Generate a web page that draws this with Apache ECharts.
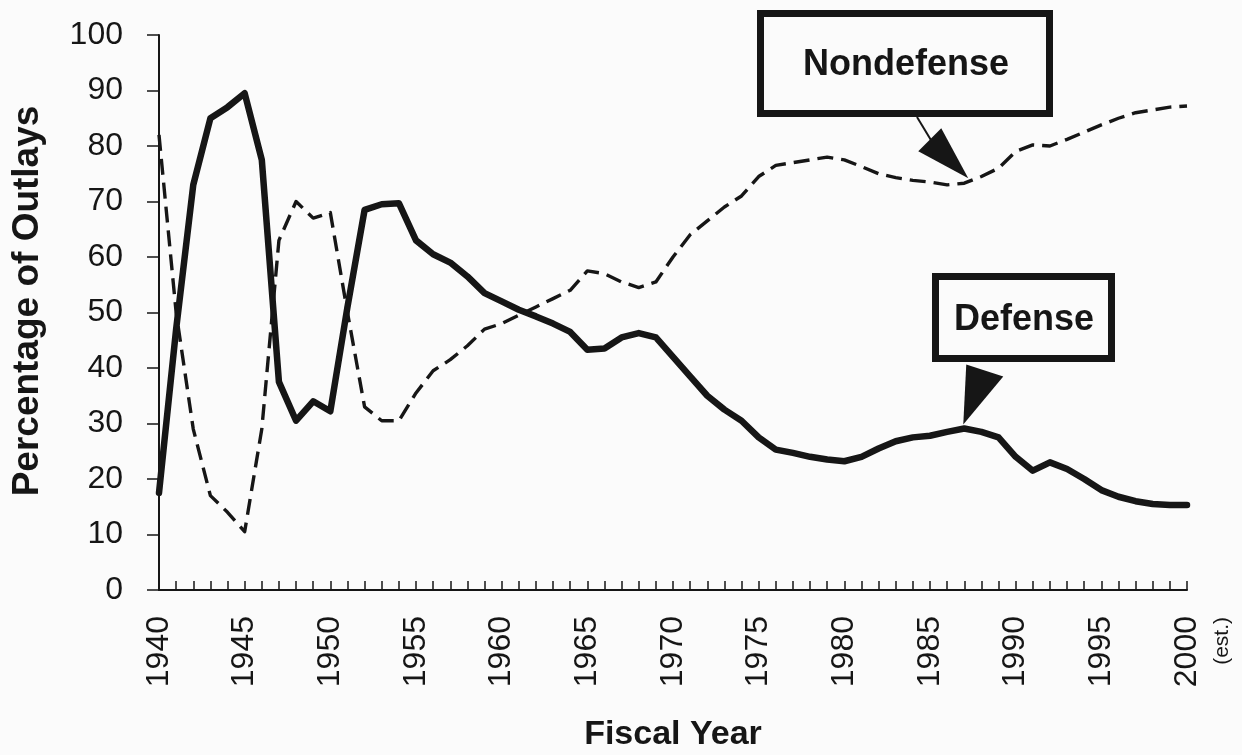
<!DOCTYPE html>
<html>
<head>
<meta charset="utf-8">
<script src="https://cdn.jsdelivr.net/npm/echarts@6/dist/echarts.min.js"></script>
<style>
html,body{margin:0;padding:0;background:#fbfbfb;}
#c{width:1242px;height:755px;}
</style>
</head>
<body>
<div id="c"></div>
<script>
const years = ['1940','1941','1942','1943','1944','1945','1946','1947','1948','1949',
  '1950','1951','1952','1953','1954','1955','1956','1957','1958','1959',
  '1960','1961','1962','1963','1964','1965','1966','1967','1968','1969',
  '1970','1971','1972','1973','1974','1975','1976','1977','1978','1979',
  '1980','1981','1982','1983','1984','1985','1986','1987','1988','1989',
  '1990','1991','1992','1993','1994','1995','1996','1997','1998','1999','2000'];

const defense = [17.5, 47, 73, 85, 87, 89.5, 77.5, 37.5, 30.5, 34,
  32.2, 51, 68.5, 69.5, 69.7, 63, 60.5, 59, 56.5, 53.5,
  52, 50.5, 49.3, 48, 46.5, 43.3, 43.5, 45.5, 46.3, 45.5,
  42, 38.5, 35, 32.5, 30.5, 27.5, 25.3, 24.7, 24, 23.5,
  23.2, 24, 25.5, 26.8, 27.5, 27.8, 28.5, 29.1, 28.5, 27.5,
  24, 21.5, 23, 21.8, 20, 18, 16.8, 16, 15.5, 15.3, 15.3];

const nondefense = [82, 50, 29, 17, 14, 10.5, 29, 63, 70, 67,
  68, 50, 33, 30.5, 30.5, 35.5, 39.5, 41.5, 44, 47,
  48, 49.5, 51, 52.5, 54, 57.5, 57, 55.5, 54.5, 55.5,
  60, 64, 66.5, 69, 71, 74.5, 76.5, 77, 77.5, 78,
  77.5, 76.3, 75, 74.3, 73.8, 73.5, 73, 73.3, 74.5, 76,
  79, 80.2, 80, 81.2, 82.5, 83.8, 85, 86, 86.5, 87, 87.2];

const yMin = 0, yMax = 100, yStep = 10;
const labelNondef = 'Nondefense';
const labelDef = 'Defense';
const xTitle = 'Fiscal Year';
const yTitle = 'Percentage of Outlays';
const estNote = '(est.)';

const FONT = '"Liberation Sans", Arial, Helvetica, sans-serif';
const INK = '#161616';

const chart = echarts.init(document.getElementById('c'), null, {renderer: 'canvas'});

chart.setOption({
  backgroundColor: '#fbfbfb',
  animation: false,
  grid: {left: 159, right: 55, top: 35, bottom: 165, containLabel: false, outerBoundsMode: 'none'},
  xAxis: {
    type: 'category',
    data: years,
    boundaryGap: false,
    axisLine: {show: true, lineStyle: {color: INK, width: 2}},
    axisTick: {show: true, inside: true, length: 9, interval: 0, lineStyle: {color: INK, width: 1.5}},
    axisLabel: {interval: 4, rotate: 90, margin: 26, fontSize: 32, color: INK, fontFamily: FONT},
    splitLine: {show: false},
    name: xTitle,
    nameLocation: 'middle',
    nameGap: 128,
    nameTextStyle: {fontSize: 34, fontWeight: 'bold', color: INK, fontFamily: FONT}
  },
  yAxis: {
    type: 'value',
    min: yMin, max: yMax, interval: yStep,
    axisLine: {show: true, lineStyle: {color: INK, width: 2}},
    axisTick: {show: true, inside: false, length: 12, lineStyle: {color: INK, width: 1.5}},
    axisLabel: {margin: 36, fontSize: 32, color: INK, fontFamily: FONT},
    splitLine: {show: false}
  },
  series: [
    {
      name: labelDef,
      type: 'line',
      data: defense,
      showSymbol: false,
      lineStyle: {color: INK, width: 6.5, join: 'round', cap: 'round'},
      z: 3
    },
    {
      name: labelNondef,
      type: 'line',
      data: nondefense,
      showSymbol: false,
      lineStyle: {color: INK, width: 3.4, type: [16, 8], join: 'round'},
      z: 2
    }
  ]
});

// annotations anchored on the data through the chart's own scales
const tipN = chart.convertToPixel({xAxisIndex: 0, yAxisIndex: 0}, [47, nondefense[47]]);
const tipD = chart.convertToPixel({xAxisIndex: 0, yAxisIndex: 0}, [47, defense[47]]);
const est = chart.convertToPixel({xAxisIndex: 0, yAxisIndex: 0}, [60, 0]);
const tnx = tipN[0] + 4, tny = tipN[1] - 5;
const tdx = tipD[0] - 1, tdy = tipD[1] - 4;

chart.setOption({
  graphic: [
    {
      type: 'text', z: 50,
      x: 28, y: 301, rotation: Math.PI / 2,
      style: {text: yTitle, font: 'bold 37px ' + FONT, fill: INK, align: 'center', verticalAlign: 'middle'}
    },
    {
      type: 'text', z: 50,
      x: est[0] + 35, y: est[1] + 27, rotation: Math.PI / 2,
      style: {text: estNote, font: '21px ' + FONT, fill: INK, align: 'right', verticalAlign: 'middle'}
    },
    // Nondefense box
    {
      type: 'rect', z: 50,
      shape: {x: 760.5, y: 13.5, width: 289, height: 100},
      style: {fill: '#fbfbfb', stroke: INK, lineWidth: 7}
    },
    {
      type: 'text', z: 51,
      x: 906, y: 65,
      style: {text: labelNondef, font: 'bold 36px ' + FONT, fill: INK, align: 'center', verticalAlign: 'middle'}
    },
    {
      type: 'line', z: 50,
      shape: {x1: 917, y1: 117, x2: tnx - 36, y2: tny - 36},
      style: {stroke: INK, lineWidth: 2}
    },
    {
      type: 'polygon', z: 50,
      shape: {points: [[tnx, tny], [tnx - 50, tny - 27], [tnx - 27, tny - 50]]},
      style: {fill: INK}
    },
    // Defense box
    {
      type: 'rect', z: 50,
      shape: {x: 935.5, y: 276.5, width: 176, height: 82},
      style: {fill: '#fbfbfb', stroke: INK, lineWidth: 7}
    },
    {
      type: 'text', z: 51,
      x: 1024, y: 320,
      style: {text: labelDef, font: 'bold 36px ' + FONT, fill: INK, align: 'center', verticalAlign: 'middle'}
    },
    {
      type: 'polygon', z: 50,
      shape: {points: [[tdx, tdy], [tdx + 3, tdy - 60], [tdx + 40, tdy - 48]]},
      style: {fill: INK}
    }
  ]
});
</script>
</body>
</html>
